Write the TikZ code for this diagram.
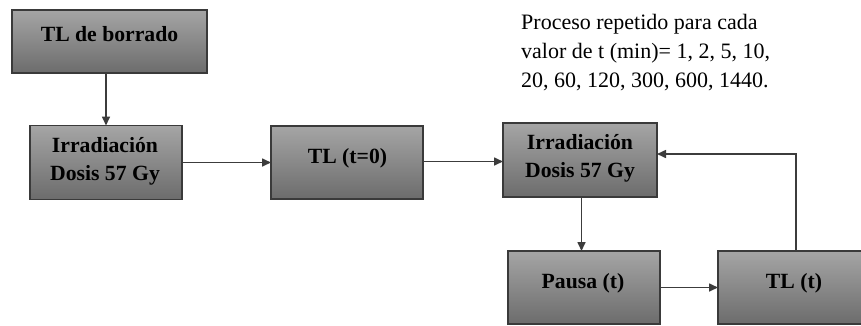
\documentclass[tikz,border=0pt]{standalone}
\usepackage{fontspec}
\setmainfont{Liberation Serif}
\usetikzlibrary{arrows.meta,calc}
\definecolor{boxtop}{RGB}{165,165,165}
\definecolor{boxbot}{RGB}{108,108,108}
\definecolor{edgecol}{RGB}{58,58,58}
\definecolor{arrcol}{RGB}{60,60,60}
\tikzset{
  box/.style={draw=edgecol, line width=1.2pt, top color=boxtop, bottom color=boxbot,
    inner sep=0pt, outer sep=0pt},
  lbl/.style={font=\fontsize{21.7}{27}\selectfont\bfseries, anchor=base, inner sep=0pt, text=black},
  note/.style={font=\fontsize{22}{28.5}\selectfont, anchor=base west, inner sep=0pt, text=black},
  conn/.style={draw=arrcol, line width=1.6pt, -{Triangle[length=9pt,width=8pt]}},
}
\begin{document}
\begin{tikzpicture}[x=1pt,y=-1pt]
\fill[white] (0,0) rectangle (861,325);
\useasboundingbox (0,0) rectangle (861,325);
\clip (0,0) rectangle (861,325);
% boxes
\node[box, minimum width=195pt, minimum height=63pt] (b0) at (109.5,41.5) {};
\node[box, minimum width=152pt, minimum height=74pt] (b1) at (106,162.5) {};
\node[box, minimum width=152pt, minimum height=73pt] (b2) at (347,162.5) {};
\node[box, minimum width=154pt, minimum height=74pt] (b3) at (580,160) {};
\node[box, minimum width=152pt, minimum height=73pt] (b4) at (584,287.5) {};
\node[box, minimum width=152pt, minimum height=73pt] (b5) at (794,287.5) {};
% labels
\node[lbl] (t0) at (109.5,41) {TL de borrado};
\node[lbl] (t1a) at (105,152.7) {Irradiación};
\node[lbl] (t1b) at (105,180.3) {Dosis 57 Gy};
\node[lbl] (t2) at (347.5,163) {TL (t=0)};
\node[lbl] (t3a) at (580,149.7) {Irradiación};
\node[lbl] (t3b) at (580,177.3) {Dosis 57 Gy};
\node[lbl] (t4) at (583,288) {Pausa (t)};
\node[lbl] (t5) at (794,288) {TL (t)};
% note
\node[note] (n1) at (521,29) {Proceso repetido para cada};
\node[note] (n2) at (521,58) {valor de t (min)= 1, 2, 5, 10,};
\node[note] (n3) at (521,87) {20, 60, 120, 300, 600, 1440.};
% connectors
\draw[conn] (b0.south -| b1.north) -- (b1.north);
\draw[conn] (b1.east) -- (b2.west);
\draw[conn] ([yshift=1pt]b2.east) -- ([yshift=1pt]b2.east -| b3.west);
\draw[conn] ([xshift=1.5pt]b3.south) -- ([xshift=1.5pt]b3.south |- b4.north);
\draw[conn] (b4.east) -- (b5.west);
\draw[conn] ([xshift=2pt]b5.north) |- ([yshift=6pt]b3.east);
\end{tikzpicture}
\end{document}
